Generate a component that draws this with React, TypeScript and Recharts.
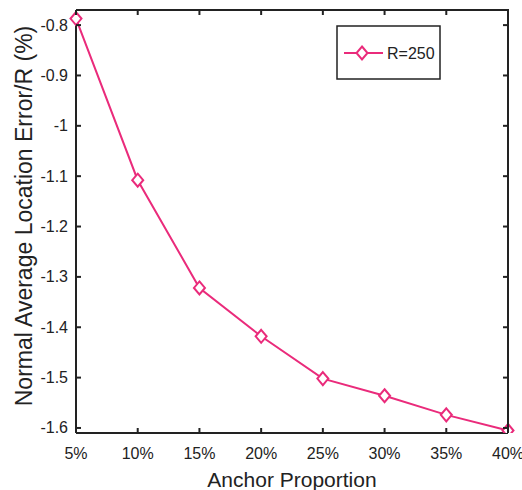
import React from 'react';
import { LineChart, Line, XAxis, YAxis, Legend, Label } from 'recharts';

const proportions = [5, 10, 15, 20, 25, 30, 35, 40];
const errorR250 = [-0.787, -1.108, -1.322, -1.418, -1.502, -1.536, -1.574, -1.605];
const xTicks = [5, 10, 15, 20, 25, 30, 35, 40];
const yTicks = [-1.6, -1.5, -1.4, -1.3, -1.2, -1.1, -1, -0.9, -0.8];
const xDomain = [5, 40];
const yDomain = [-1.61, -0.77];

const PINK = '#EA2B7B';
const INK = '#222';
const FONT = 'Liberation Sans, Arial, Helvetica, sans-serif';

// plot box edges (MATLAB style closed box)
const BOX_TOP = 10;
const BOX_RIGHT = 508;

const data = proportions.map((p, i) => ({ p, v: errorR250[i] }));

const Diamond = (props: any) => {
  const { cx, cy } = props;
  if (cx == null || cy == null) return null;
  return (
    <path
      d={`M${cx},${cy - 6.5} L${cx + 5.5},${cy} L${cx},${cy + 6.5} L${cx - 5.5},${cy} Z`}
      fill="#fff"
      stroke={PINK}
      strokeWidth={2}
    />
  );
};

// bottom tick + matching inward tick on the top edge
const BottomTick = (props: any) => {
  const { x, y, payload } = props;
  return (
    <g>
      <line x1={x} y1={y} x2={x} y2={y - 5} stroke={INK} strokeWidth={2} />
      <line x1={x} y1={BOX_TOP} x2={x} y2={BOX_TOP + 5} stroke={INK} strokeWidth={2} />
      <text x={x} y={y + 26} textAnchor="middle" fontSize={16} fontFamily={FONT} fill={INK}>
        {payload.value}%
      </text>
    </g>
  );
};

// left tick + matching inward tick on the right edge
const LeftTick = (props: any) => {
  const { x, y, payload } = props;
  return (
    <g>
      <line x1={x} y1={y} x2={x + 5} y2={y} stroke={INK} strokeWidth={2} />
      <line x1={BOX_RIGHT} y1={y} x2={BOX_RIGHT - 5} y2={y} stroke={INK} strokeWidth={2} />
      <text x={x - 8} y={y + 5.5} textAnchor="end" fontSize={16} fontFamily={FONT} fill={INK}>
        {String(payload.value)}
      </text>
    </g>
  );
};

const LegendBox = () => (
  <svg width={106} height={56}>
    <rect x={1} y={1} width={103} height={53} fill="#fff" stroke={INK} strokeWidth={1.5} />
    <line x1={8} y1={28} x2={47} y2={28} stroke={PINK} strokeWidth={2} />
    <path d="M26,21.5 L31.5,28 L26,34.5 L20.5,28 Z" fill="#fff" stroke={PINK} strokeWidth={2} />
    <text x={51} y={34} fontSize={16} fontFamily={FONT} fill={INK}>
      R=250
    </text>
  </svg>
);

export default function App() {
  return (
    <div style={{ position: 'absolute', left: 0, top: 0, width: 522, height: 490 }}>
      <LineChart width={522} height={490} data={data} margin={{ top: BOX_TOP, right: 522 - BOX_RIGHT, bottom: 0, left: 0 }}>
        <XAxis
          dataKey="p"
          type="number"
          domain={xDomain}
          ticks={xTicks}
          height={57}
          axisLine={{ stroke: INK, strokeWidth: 2 }}
          tickLine={false}
          tickSize={0}
          tickMargin={0}
          tick={<BottomTick />}
          interval={0}
        >
          <Label
            value="Anchor Proportion"
            position="insideBottom"
            offset={3}
            style={{ fontSize: 21, fontFamily: FONT, fill: INK }}
          />
        </XAxis>
        <YAxis
          type="number"
          domain={yDomain}
          ticks={yTicks}
          width={76}
          axisLine={{ stroke: INK, strokeWidth: 2 }}
          tickLine={false}
          tickSize={0}
          tickMargin={0}
          tick={<LeftTick />}
          interval={0}
          allowDataOverflow
        >
          <Label
            content={() => {
              const cx = 32;
              const cy = 216;
              return (
                <text
                  x={cx}
                  y={cy}
                  transform={`rotate(-90, ${cx}, ${cy})`}
                  textAnchor="middle"
                  fontSize={23}
                  fontFamily={FONT}
                  fill={INK}
                >
                  Normal Average Location Error/R (%)
                </text>
              );
            }}
          />
        </YAxis>
        <Legend
          layout="horizontal"
          verticalAlign="middle"
          content={() => <LegendBox />}
          wrapperStyle={{ position: 'absolute', left: 336, top: 25, width: 106, height: 56 }}
        />
        <Line
          type="linear"
          dataKey="v"
          stroke={PINK}
          strokeWidth={2}
          dot={<Diamond />}
          activeDot={false}
          isAnimationActive={false}
        />
      </LineChart>
      {/* top and right edges of the axes box */}
      <div
        style={{
          position: 'absolute',
          left: 76,
          top: BOX_TOP - 1,
          width: BOX_RIGHT + 1 - 76,
          height: 433 - (BOX_TOP - 1),
          boxSizing: 'border-box',
          borderTop: `2px solid ${INK}`,
          borderRight: `2px solid ${INK}`,
          pointerEvents: 'none',
        }}
      />
    </div>
  );
}
